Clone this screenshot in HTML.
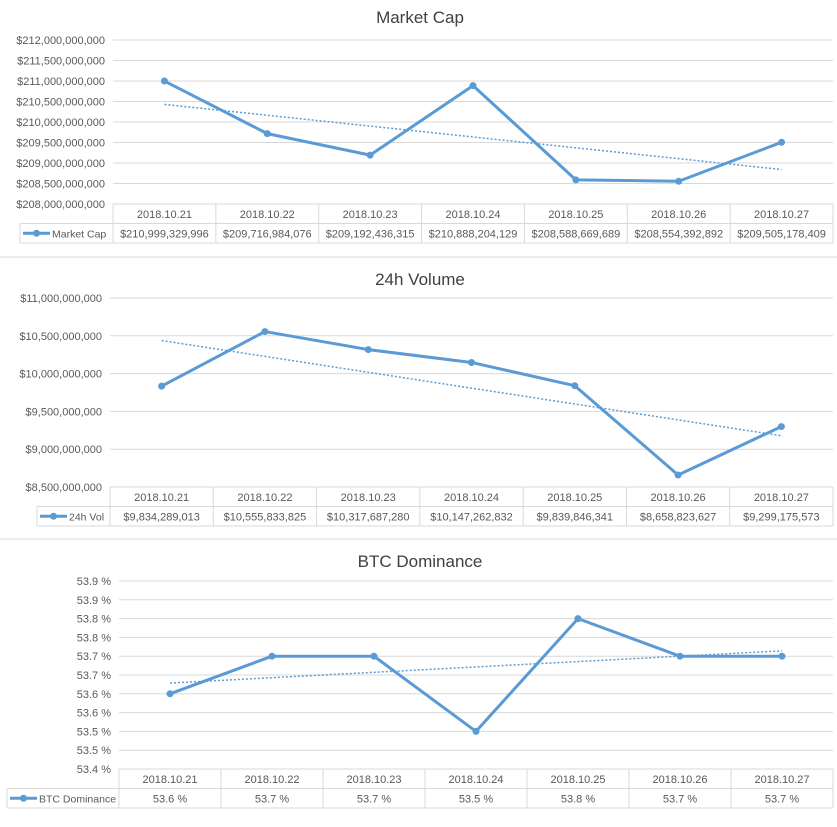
<!DOCTYPE html>
<html><head><meta charset="utf-8"><style>
body{margin:0;background:#fff;font-family:"Liberation Sans",Arial,sans-serif;}
svg text{font-family:"Liberation Sans",Arial,sans-serif;}
</style></head><body>
<svg id="c" width="837" height="822" xmlns="http://www.w3.org/2000/svg"></svg>
<script>
const categories=["2018.10.21","2018.10.22","2018.10.23","2018.10.24","2018.10.25","2018.10.26","2018.10.27"];
const marketCap=[210999329996,209716984076,209192436315,210888204129,208588669689,208554392892,209505178409];
const marketCapLabels=["$210,999,329,996","$209,716,984,076","$209,192,436,315","$210,888,204,129","$208,588,669,689","$208,554,392,892","$209,505,178,409"];
const marketCapTicks=[208e9,208.5e9,209e9,209.5e9,210e9,210.5e9,211e9,211.5e9,212e9];
const volume=[9834289013,10555833825,10317687280,10147262832,9839846341,8658823627,9299175573];
const volumeLabels=["$9,834,289,013","$10,555,833,825","$10,317,687,280","$10,147,262,832","$9,839,846,341","$8,658,823,627","$9,299,175,573"];
const volumeTicks=[8.5e9,9e9,9.5e9,10e9,10.5e9,11e9];
const dominance=[53.6,53.7,53.7,53.5,53.8,53.7,53.7];
const dominanceLabels=["53.6 %","53.7 %","53.7 %","53.5 %","53.8 %","53.7 %","53.7 %"];
const dominanceTicks=[53.4,53.45,53.5,53.55,53.6,53.65,53.7,53.75,53.8,53.85,53.9];

const NS="http://www.w3.org/2000/svg";
const svg=document.getElementById('c');
function mk(tag,attrs,parent,txt){const e=document.createElementNS(NS,tag);for(const k in attrs)e.setAttribute(k,attrs[k]);if(txt!==undefined)e.textContent=txt;(parent||svg).appendChild(e);return e;}
function money(v){return '$'+Math.round(v).toLocaleString('en-US');}
function pct(v){return (Math.round(v*10+1e-6)/10).toFixed(1)+' %';}

function chart(o){
  const g=mk('g',{});
  
  
  const t=mk('text',{x:420,y:o.titleY,'text-anchor':'middle','font-size':17,fill:'#404040'},g,o.title);
  
  
  const min=o.ticks[0],max=o.ticks[o.ticks.length-1];
  const y=v=>o.bottom-(v-min)/(max-min)*(o.bottom-o.top);
  const cw=(833-o.left)/categories.length;
  const x=i=>o.left+cw*(i+0.5);
  o.ticks.forEach(v=>{
    const l=mk('line',{x1:o.left,x2:833,y1:y(v),y2:y(v),stroke:'#d9d9d9','stroke-width':1},g);
    
    
    const tx=mk('text',{x:o.left-8,y:y(v)+4,'text-anchor':'end','font-size':11,fill:'#595959'},g,o.fmt(v));
    
    
  });
  const r1=o.bottom,r2=o.bottom+19.5,r3=o.bottom+39;
  const tb=mk('g',{stroke:'#d9d9d9','stroke-width':1,fill:'none'},g);
  
  
  mk('line',{x1:o.legendX,x2:833,y1:r2,y2:r2},tb);
  mk('line',{x1:o.legendX,x2:833,y1:r3,y2:r3},tb);
  mk('line',{x1:o.legendX,x2:o.legendX,y1:r2,y2:r3},tb);
  for(let i=0;i<=categories.length;i++){mk('line',{x1:o.left+cw*i,x2:o.left+cw*i,y1:r1,y2:r3},tb);}
  categories.forEach((c,i)=>{
    const a=mk('text',{x:x(i),y:r1+14,'text-anchor':'middle','font-size':11,fill:'#595959'},g,c);
    
    
    const b=mk('text',{x:x(i),y:r2+14,'text-anchor':'middle','font-size':11,fill:'#595959'},g,o.labels[i]);
    
    
  });
  const lg=mk('g',{},g);
  
  
  const ly=(r2+r3)/2;
  mk('line',{x1:o.legendX+3,x2:o.legendX+30,y1:ly,y2:ly,stroke:'#5b9bd5','stroke-width':3},lg);
  mk('circle',{cx:o.legendX+16.5,cy:ly,r:3.5,fill:'#5b9bd5'},lg);
  mk('text',{x:o.legendX+32,y:ly+4,'font-size':10.5,fill:'#595959'},lg,o.series);
  const n=o.data.length;let sx=0,sy=0,sxy=0,sxx=0;
  o.data.forEach((v,i)=>{sx+=i;sy+=v;sxy+=i*v;sxx+=i*i;});
  const m=(n*sxy-sx*sy)/(n*sxx-sx*sx),b0=(sy-m*sx)/n;
  const tr=mk('line',{x1:x(0),y1:y(b0),x2:x(n-1),y2:y(b0+m*(n-1)),stroke:'#5b9bd5','stroke-width':1.5,'stroke-dasharray':'2,2'},g);
  
  
  const p=mk('polyline',{points:o.data.map((v,i)=>x(i)+','+y(v)).join(' '),fill:'none',stroke:'#5b9bd5','stroke-width':3,'stroke-linejoin':'round'},g);
  
  
  o.data.forEach((v,i)=>{
    const c=mk('circle',{cx:x(i),cy:y(v),r:3.5,fill:'#5b9bd5'},g);
    
    
  });
}
chart({name:'market-cap-chart',title:'Market Cap',titleY:23,series:'Market Cap',data:marketCap,labels:marketCapLabels,ticks:marketCapTicks,fmt:money,top:40,bottom:204,left:113,legendX:20});
chart({name:'volume-chart',title:'24h Volume',titleY:285,series:'24h Vol',data:volume,labels:volumeLabels,ticks:volumeTicks,fmt:money,top:298,bottom:487,left:110,legendX:37});
chart({name:'dominance-chart',title:'BTC Dominance',titleY:567,series:'BTC Dominance',data:dominance,labels:dominanceLabels,ticks:dominanceTicks,fmt:pct,top:581,bottom:769,left:119,legendX:7});
[257,539].forEach(yy=>{
  const s=mk('line',{x1:0,x2:837,y1:yy,y2:yy,stroke:'#d9d9d9','stroke-width':1});
  
  
});
</script>
</body></html>
